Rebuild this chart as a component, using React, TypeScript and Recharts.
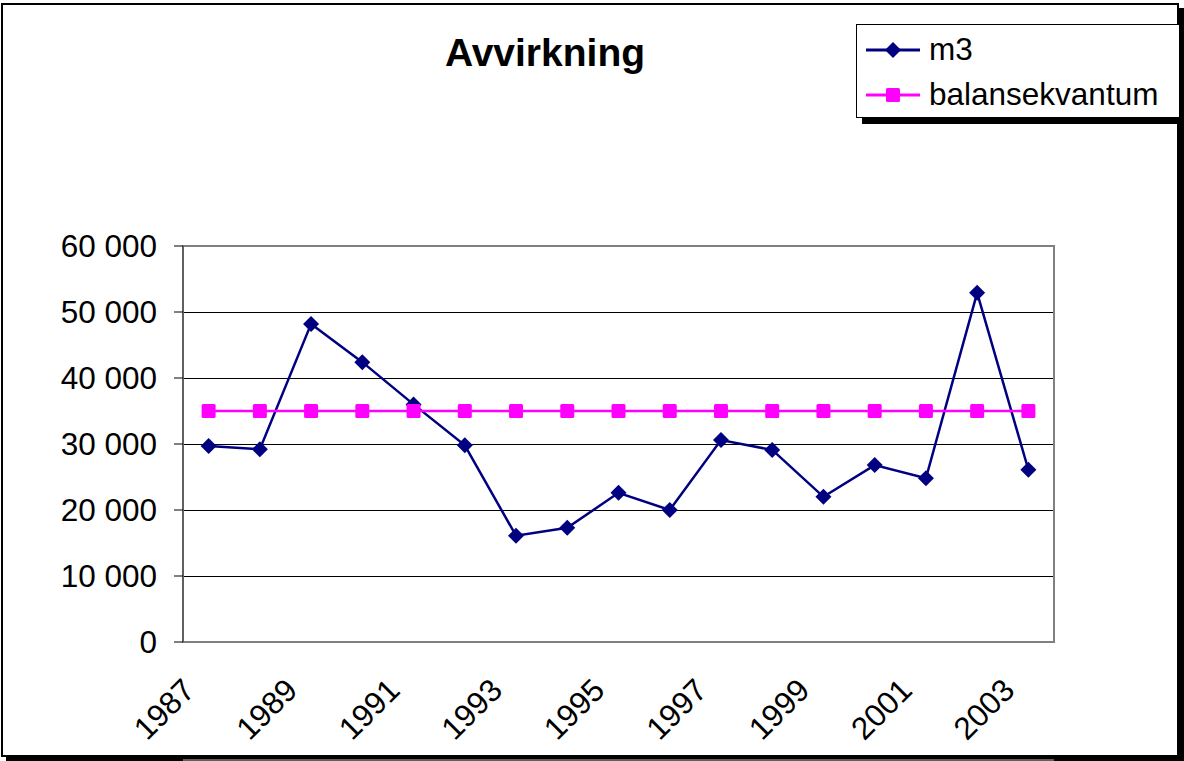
import { LineChart, Line, XAxis, YAxis, CartesianGrid, ReferenceArea } from "recharts";

const YEARS = ["1987", "1988", "1989", "1990", "1991", "1992", "1993", "1994", "1995", "1996", "1997", "1998", "1999", "2000", "2001", "2002", "2003"];
const M3 = [29700, 29200, 48200, 42400, 36000, 29800, 16100, 17300, 22600, 20000, 30600, 29100, 22000, 26800, 24800, 52900, 26100];
const BALANS = [35000, 35000, 35000, 35000, 35000, 35000, 35000, 35000, 35000, 35000, 35000, 35000, 35000, 35000, 35000, 35000, 35000];
const LABEL_YEARS = ["1987", "1989", "1991", "1993", "1995", "1997", "1999", "2001", "2003"];
const Y_TICKS = [0, 10000, 20000, 30000, 40000, 50000, 60000];

const FONT = "'Liberation Sans', Arial, sans-serif";
const NAVY = "#000080";
const MAGENTA = "#FF00FF";
const LABEL_SIZE = 31.5;

const data = YEARS.map((year, i) => ({ x: i, year, m3: M3[i], balans: BALANS[i] }));
const boundaryTicks = YEARS.map((_, i) => i - 0.5).concat(YEARS.length - 0.5);
const labelTicks = LABEL_YEARS.map((y) => YEARS.indexOf(y));
const domain: [number, number] = [-0.5, YEARS.length - 0.5];

const fmt = (v: number) => String(v).replace(/\B(?=(\d{3})+(?!\d))/g, " ");

function Diamond({ cx, cy }: any) {
  if (cx == null || cy == null) return null;
  const r = 8;
  return <path d={`M${cx} ${cy - r}L${cx + r} ${cy}L${cx} ${cy + r}L${cx - r} ${cy}Z`} fill={NAVY} />;
}

function Square({ cx, cy }: any) {
  if (cx == null || cy == null) return null;
  return <rect x={cx - 7} y={cy - 7} width={14} height={14} rx={1.5} fill={MAGENTA} />;
}

// rotated year labels, anchored a bit left of the category centre like Excel does
function YearTick({ x, y, payload }: any) {
  const label = YEARS[payload.value];
  const ax = x - 12;
  return (
    <text
      x={ax}
      y={y}
      transform={`rotate(-45, ${ax}, ${y})`}
      textAnchor="end"
      fontSize={LABEL_SIZE}
      fontFamily={FONT}
      fill="#000"
    >
      {label}
    </text>
  );
}

function LegendBox() {
  return (
    <div
      style={{
        position: "absolute",
        left: 856,
        top: 24,
        width: 322,
        height: 92,
        border: "1px solid #000",
        background: "#fff",
        boxShadow: "6px 6px 0 #000",
      }}
    >
      <svg width={322} height={92} style={{ display: "block" }}>
        <line x1={9} x2={63} y1={25} y2={25} stroke={NAVY} strokeWidth={3} />
        <Diamond cx={36} cy={25} />
        <text x={72} y={35} fontSize={LABEL_SIZE} fontFamily={FONT} fill="#000">m3</text>
        <line x1={9} x2={63} y1={70} y2={70} stroke={MAGENTA} strokeWidth={3} />
        <Square cx={36} cy={70} />
        <text x={72} y={80} fontSize={LABEL_SIZE} fontFamily={FONT} fill="#000">balansekvantum</text>
      </svg>
    </div>
  );
}

export default function App() {
  return (
    <div style={{ position: "absolute", left: 0, top: 0, width: 1184, height: 761, background: "#fff", overflow: "hidden" }}>
      <style>{`.recharts-cartesian-grid-horizontal line { shape-rendering: crispEdges; }`}</style>
      <div
        style={{
          position: "absolute",
          left: 1,
          top: 3,
          width: 1178,
          height: 754,
          boxSizing: "border-box",
          border: "2px solid #000",
          boxShadow: "5px 5px 0 #000",
        }}
      />
      <svg width={1184} height={761} style={{ position: "absolute", left: 0, top: 0 }}>
        <text x={545} y={66} textAnchor="middle" fontSize={39} fontWeight="bold" fontFamily={FONT} fill="#000">
          Avvirkning
        </text>
      </svg>
      <div style={{ position: "absolute", left: 0, top: 0 }}>
        <LineChart width={1184} height={761} data={data} margin={{ top: 246, right: 130, left: 83, bottom: 0 }}>
          <CartesianGrid vertical={false} stroke="#000" strokeWidth={1} xAxisId="main" />
          <XAxis
            xAxisId="main"
            type="number"
            dataKey="x"
            domain={domain}
            ticks={boundaryTicks}
            interval={0}
            tick={false}
            tickSize={9}
            tickLine={{ stroke: "#000" }}
            axisLine={{ stroke: "#606060", strokeWidth: 2 }}
            height={1}
          />
          <XAxis
            xAxisId="labels"
            type="number"
            dataKey="x"
            domain={domain}
            ticks={labelTicks}
            interval={0}
            tick={<YearTick />}
            tickSize={0}
            tickMargin={50}
            tickLine={false}
            axisLine={false}
            height={118}
          />
          <YAxis
            type="number"
            domain={[0, 60000]}
            ticks={Y_TICKS}
            interval={0}
            width={100}
            tickFormatter={fmt}
            tickSize={9}
            tickMargin={17}
            tickLine={{ stroke: "#000" }}
            axisLine={{ stroke: "#606060", strokeWidth: 2 }}
            tick={{ fontSize: LABEL_SIZE, fontFamily: FONT, fill: "#000" }}
          />
          <ReferenceArea
            xAxisId="main"
            x1={domain[0]}
            x2={domain[1]}
            y1={0}
            y2={60000}
            fill="none"
            stroke="#808080"
            strokeWidth={2}
            ifOverflow="visible"
          />
          <Line
            xAxisId="main"
            dataKey="m3"
            stroke={NAVY}
            strokeWidth={2.5}
            dot={<Diamond />}
            activeDot={false}
            isAnimationActive={false}
          />
          <Line
            xAxisId="main"
            dataKey="balans"
            stroke={MAGENTA}
            strokeWidth={2.5}
            dot={<Square />}
            activeDot={false}
            isAnimationActive={false}
          />
        </LineChart>
      </div>
      <LegendBox />
    </div>
  );
}
